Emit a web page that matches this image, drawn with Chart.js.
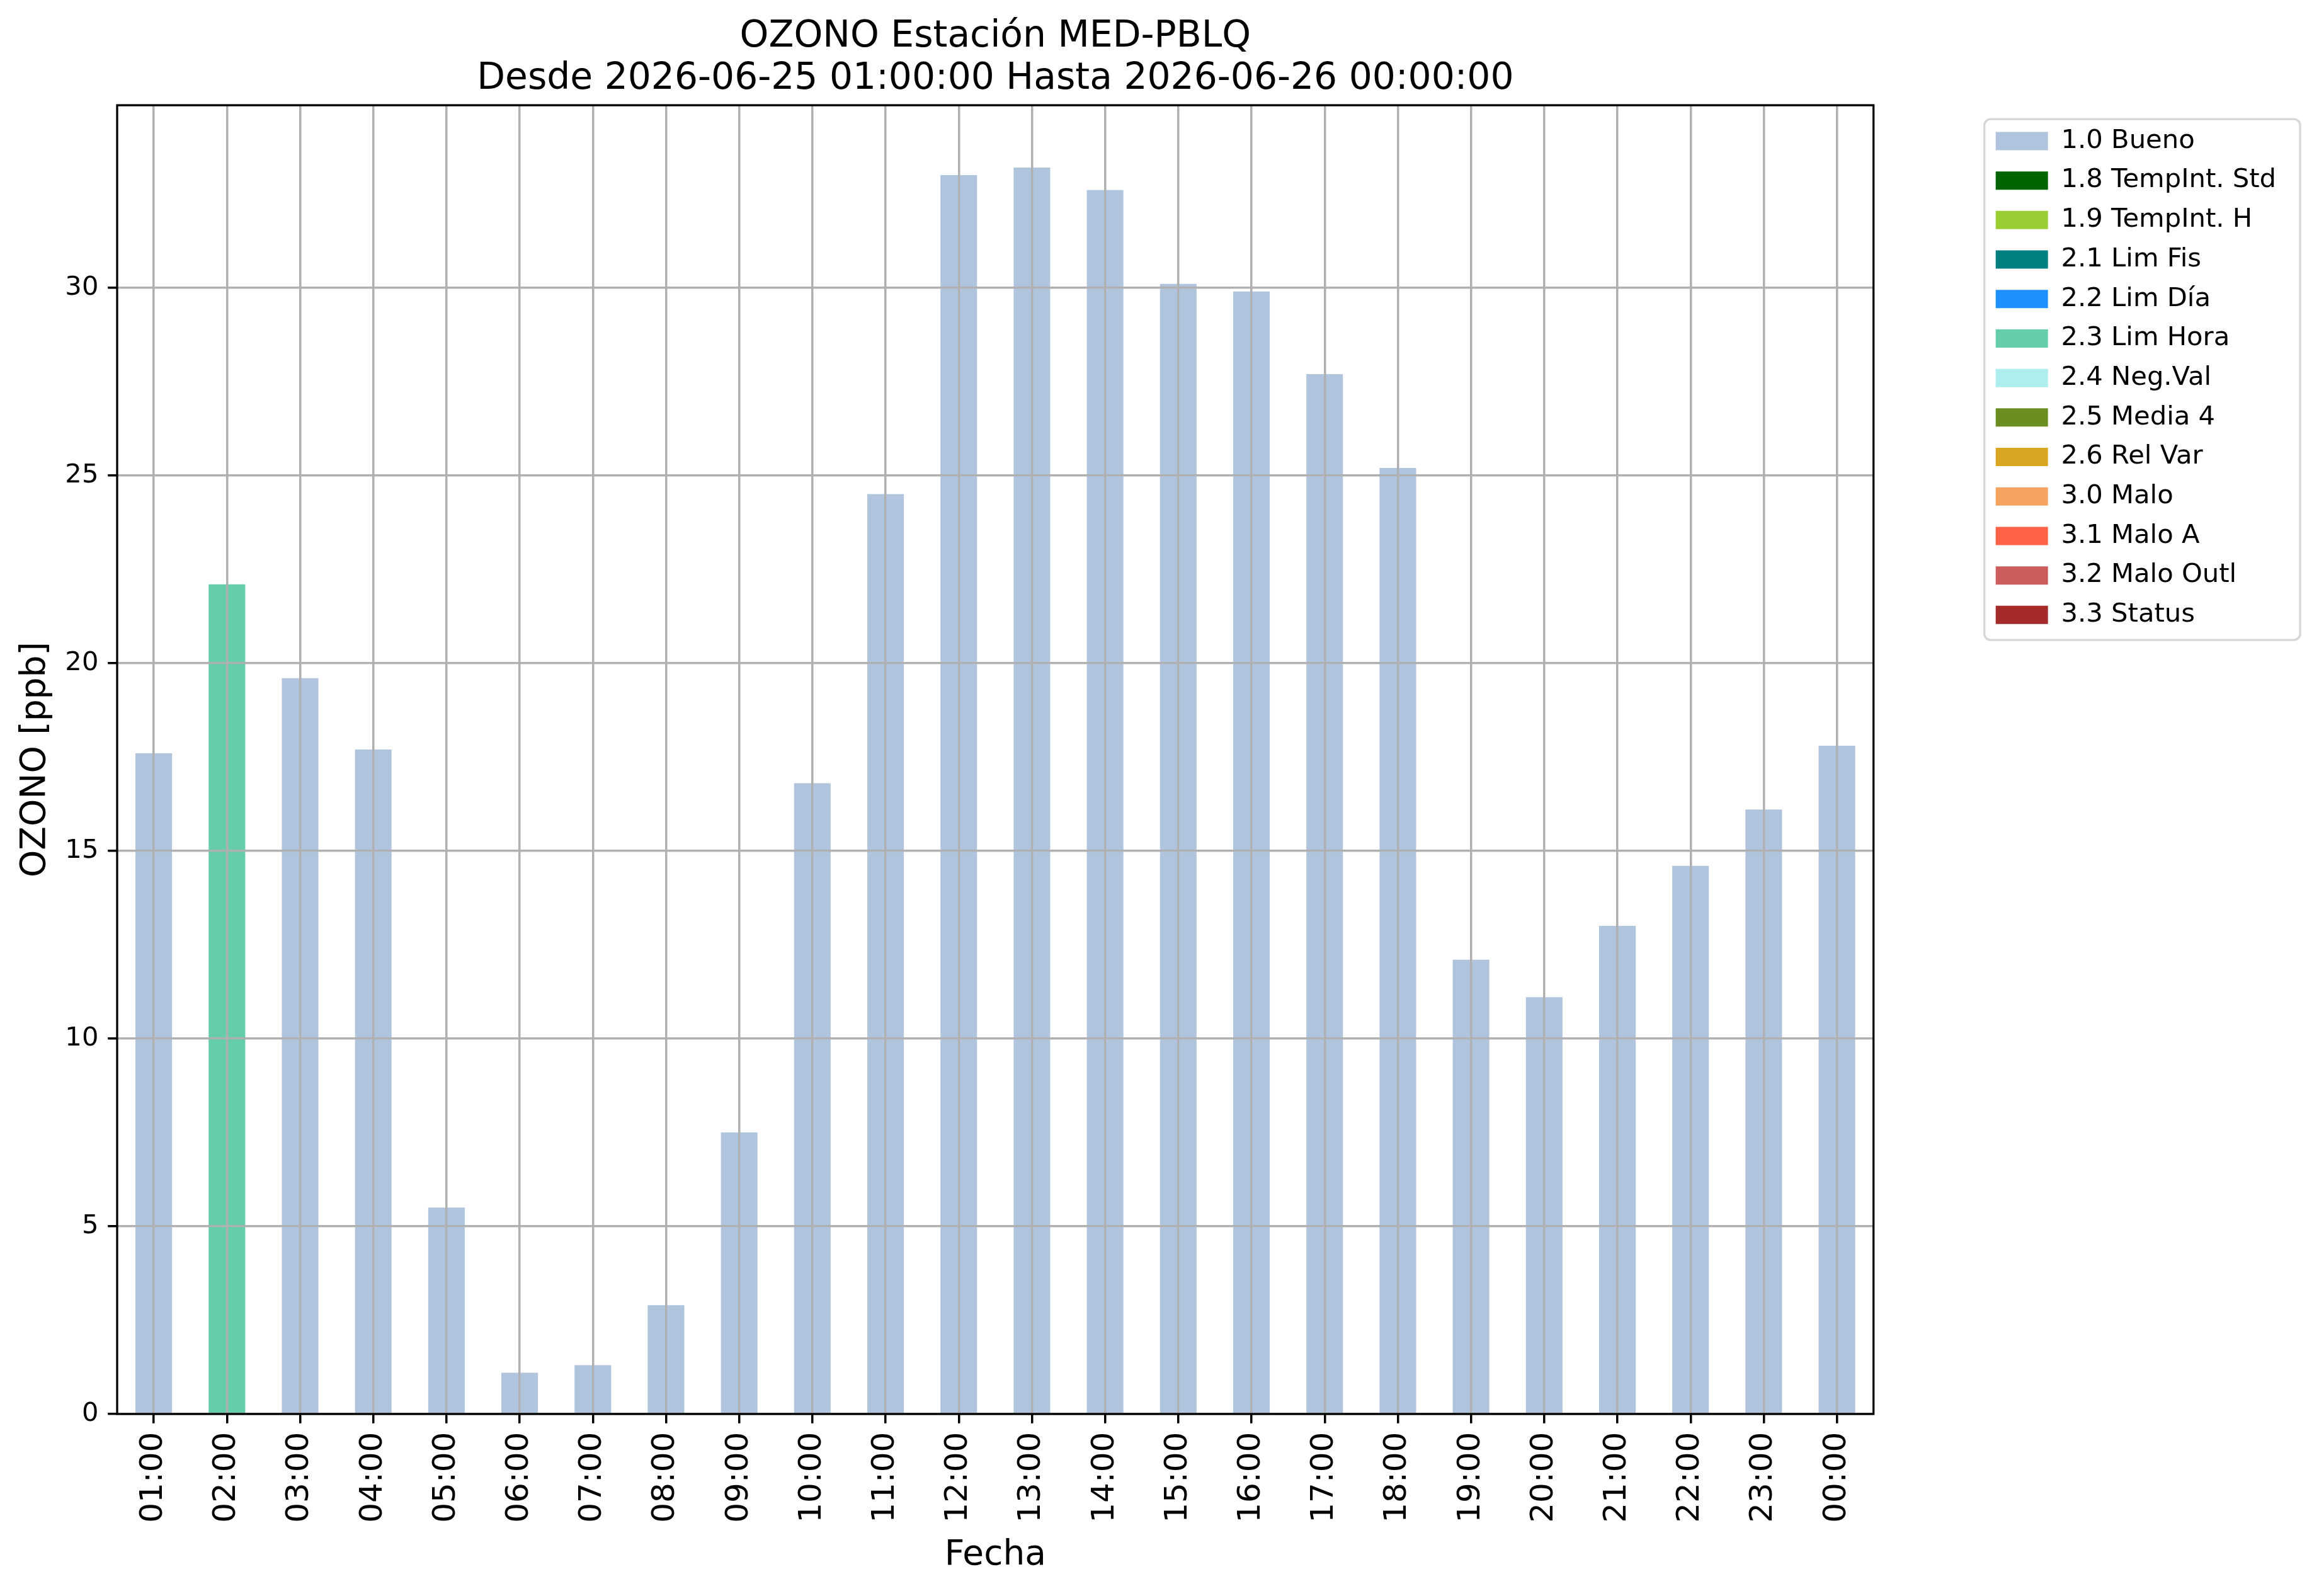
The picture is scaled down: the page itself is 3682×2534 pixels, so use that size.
<!DOCTYPE html>
<html>
<head>
<meta charset="utf-8">
<script src="https://cdn.jsdelivr.net/npm/chart.js@4.4.1/dist/chart.umd.min.js"></script>
<style>
  html, body { margin: 0; padding: 0; background: #ffffff; overflow: hidden; }
  canvas { display: block; }
</style>
</head>
<body>
<canvas id="c" width="3682" height="2534"></canvas>
<script>
// ---- data ----
const hours = ["01:00","02:00","03:00","04:00","05:00","06:00","07:00","08:00","09:00","10:00","11:00","12:00",
               "13:00","14:00","15:00","16:00","17:00","18:00","19:00","20:00","21:00","22:00","23:00","00:00"];
const ozone = [17.6, 22.1, 19.6, 17.7, 5.5, 1.1, 1.3, 2.9, 7.5, 16.8, 24.5, 33.0,
               33.2, 32.6, 30.1, 29.9, 27.7, 25.2, 12.1, 11.1, 13.0, 14.6, 16.1, 17.8];
const flags = ["1.0","2.3","1.0","1.0","1.0","1.0","1.0","1.0","1.0","1.0","1.0","1.0",
               "1.0","1.0","1.0","1.0","1.0","1.0","1.0","1.0","1.0","1.0","1.0","1.0"];
const flagCodes  = ["1.0","1.8","1.9","2.1","2.2","2.3","2.4","2.5","2.6","3.0","3.1","3.2","3.3"];
const flagNames  = ["1.0 Bueno","1.8 TempInt. Std","1.9 TempInt. H","2.1 Lim Fis","2.2 Lim Día","2.3 Lim Hora",
                    "2.4 Neg.Val","2.5 Media 4","2.6 Rel Var","3.0 Malo","3.1 Malo A","3.2 Malo Outl","3.3 Status"];
const flagColors = ["#B0C4DE","#006400","#9ACD32","#008080","#1E90FF","#66CDAA",
                    "#AFEEEE","#6B8E23","#DAA520","#F4A460","#FF6347","#CD5C5C","#A52A2A"];
const yTicks = [0, 5, 10, 15, 20, 25, 30];
const titleLines = ["OZONO Estación MED-PBLQ", "Desde 2026-06-25 01:00:00 Hasta 2026-06-26 00:00:00"];
const yTitle = "OZONO [ppb]";
const xTitle = "Fecha";

// ---- build datasets ----
const datasets = flagCodes.map((code, k) => ({
  label: flagNames[k],
  data: ozone.map((v, i) => flags[i] === code ? v : null),
  backgroundColor: flagColors[k],
  borderWidth: 0,
  grouped: false,
  barPercentage: 0.5,
  categoryPercentage: 1.0
}));

const LW = 3.3;
const FF = "'DejaVu Sans', sans-serif";
Chart.defaults.font.family = FF;
Chart.defaults.color = '#000000';

const framePlugin = {
  id: 'framePlugin',
  beforeDraw(chart) {
    const lg = chart.legend;
    if (!lg || !lg.legendHitBoxes || !lg.legendHitBoxes.length) return;
    const hb = lg.legendHitBoxes;
    const first = hb[0], last = hb[hb.length - 1];
    const x0 = first.left - 18, y0 = first.top - 14;
    const x1 = lg.left + lg.width + 28, y1 = last.top + last.height + 19;
    const ctx = chart.ctx;
    ctx.save();
    ctx.beginPath();
    if (ctx.roundRect) ctx.roundRect(x0, y0, x1 - x0, y1 - y0, 10); else ctx.rect(x0, y0, x1 - x0, y1 - y0);
    ctx.fillStyle = 'rgba(255,255,255,0.8)';
    ctx.fill();
    ctx.lineWidth = LW;
    ctx.strokeStyle = '#d6d6d6';
    ctx.stroke();
    ctx.restore();
  },
  afterDatasetsDraw(chart) {
    chart.scales.x.drawGrid(chart.chartArea);
    chart.scales.y.drawGrid(chart.chartArea);
    const {left, top, right, bottom} = chart.chartArea;
    const ctx = chart.ctx;
    ctx.save();
    ctx.strokeStyle = '#000000';
    ctx.lineWidth = LW;
    ctx.strokeRect(left, top, right - left, bottom - top);
    ctx.restore();
  }
};

new Chart(document.getElementById('c'), {
  type: 'bar',
  data: { labels: hours, datasets },
  plugins: [framePlugin],
  options: {
    responsive: false,
    animation: false,
    devicePixelRatio: 1,
    layout: { padding: { left: 0, top: 0, right: 58, bottom: 0 } },
    plugins: {
      tooltip: { enabled: false },
      title: {
        display: true,
        fullSize: false,
        text: titleLines,
        color: '#000000',
        font: { family: FF, size: 58.3, weight: 'normal', lineHeight: 1.15 },
        padding: { top: 25, bottom: 8 }
      },
      legend: {
        display: true,
        position: 'right',
        align: 'start',
        fullSize: false,
        title: { display: true, text: ' ', font: { size: 1, lineHeight: 1 }, padding: { top: 7, bottom: 7 } },
        labels: {
          boxWidth: 83,
          boxHeight: 29,
          padding: 21,
          color: '#000000',
          font: { family: FF, size: 41.7 }
        }
      }
    },
    scales: {
      x: {
        type: 'category',
        offset: true,
        grid: {
          display: true,
          offset: false,
          color: '#b0b0b0',
          lineWidth: LW,
          drawTicks: true,
          tickLength: 14.6,
          tickWidth: LW,
          tickColor: '#000000'
        },
        border: { display: false },
        ticks: {
          autoSkip: false,
          maxRotation: 90,
          minRotation: 90,
          padding: 14,
          color: '#000000',
          font: { family: FF, size: 50 }
        },
        title: {
          display: true,
          text: xTitle,
          color: '#000000',
          font: { family: FF, size: 55, lineHeight: 1.2 },
          padding: { top: 0, bottom: 31 }
        },
        afterFit(s) { s.height = 289; }
      },
      y: {
        type: 'linear',
        position: 'left',
        min: 0,
        max: 34.86,
        grid: {
          display: true,
          color: '#b0b0b0',
          lineWidth: LW,
          drawTicks: true,
          tickLength: 14.6,
          tickWidth: LW,
          tickColor: '#000000'
        },
        border: { display: false },
        ticks: {
          stepSize: 5,
          padding: 15,
          color: '#000000',
          font: { family: FF, size: 41.7 }
        },
        afterBuildTicks(s) {
          s.ticks = yTicks.map(v => ({ value: v }));
        },
        title: {
          display: true,
          text: yTitle,
          color: '#000000',
          font: { family: FF, size: 55, lineHeight: 1.2 },
          padding: { top: 24, bottom: 0 }
        },
        afterFit(s) { s.width = 186; }
      },
      pad: {
        type: 'linear',
        position: 'right',
        display: true,
        grid: { display: false, drawOnChartArea: false, drawTicks: false },
        border: { display: false },
        ticks: { display: false },
        afterFit(s) { s.width = 173; }
      }
    }
  }
});
</script>
</body>
</html>
